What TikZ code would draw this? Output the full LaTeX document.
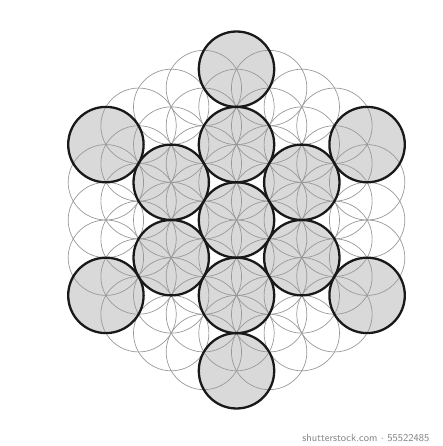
\documentclass[tikz,border=0pt]{standalone}
\usetikzlibrary{positioning}
\begin{document}
\begin{tikzpicture}[
  x=1pt, y=1pt,
  seed/.style={fill=black!15},
  petal/.style={draw=black!40, line width=0.7pt},
  fruit/.style={circle, draw=black!90, line width=2.3pt,
    minimum size=75.4pt, inner sep=0pt},
  stamp/.style={font=\fontsize{10.5}{11}\selectfont\sffamily, text=black!50}
]
  \useasboundingbox (0,0) rectangle (443,446);
  \def\R{37.7}
  \coordinate (c) at (236.5,226);

  % grey fills of the fruit circles
  \fill[seed] (c) circle[radius=\R];
  \foreach \a in {30,90,...,330} {
    \fill[seed] (c) ++(\a:2*\R) circle[radius=\R];
    \fill[seed] (c) ++(\a:4*\R) circle[radius=\R];
  }

  % flower pattern
  \foreach \i in {-4,...,4}
    \foreach \j in {-4,...,4} {
      \pgfmathtruncatemacro\hd{max(abs(\i),abs(\j),abs(\i+\j))}
      \ifnum\hd<5
        \draw[petal] (c) ++(90:\i*\R) ++(30:\j*\R) circle[radius=\R];
      \fi
    }

  % outlines
  \node[fruit] (f0) at (c) {};
  \foreach \a [count=\n] in {30,90,...,330} {
    \node[fruit] (in\n) at ([shift={(\a:2*\R)}]c) {};
    \node[fruit] (out\n) at ([shift={(\a:4*\R)}]c) {};
  }

  \node[stamp, anchor=east] (mark1) at (433,8) {shutterstock.com $\cdot$ 55522485};
\end{tikzpicture}
\end{document}
